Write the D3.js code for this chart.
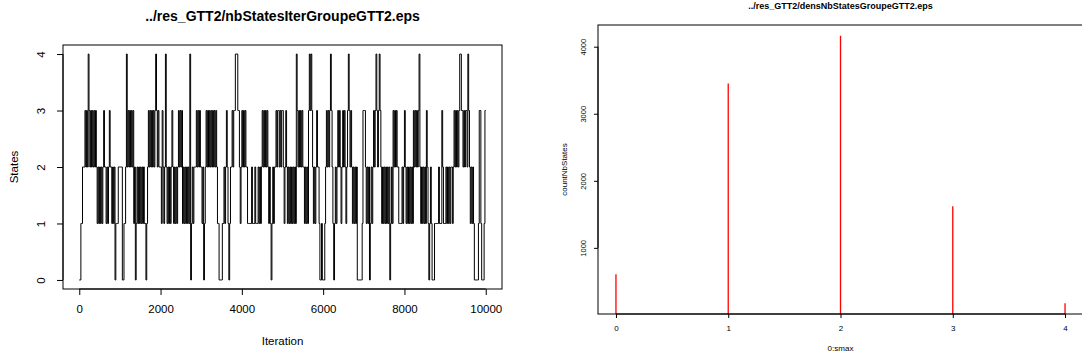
<!DOCTYPE html>
<html><head><meta charset="utf-8">
<script src="https://cdn.jsdelivr.net/npm/d3@7"></script>
<style>
html,body{margin:0;padding:0;background:#fff;}
svg{display:block;font-family:"Liberation Sans",Arial,Helvetica,sans-serif;}
</style></head>
<body>
<svg id="chart" width="1082" height="361"></svg>
<script>
// ---------- data ----------
// left panel: number of states per iteration, one string per 1000 iterations,
// each character = state over an equal slice of that block
const stateBlocks = [
  "0011 222 3232 4 323 2323232 1212121 232 2121 2322 1212 0 11122",
  "222 00 11 2 4 2 3232323 12 0 12121212121 1 0 12 323232323 4 32322",
  "21 32 12 4 2121212 32 121212 32323 121212121 4 0 121222 323232",
  "212 0 12 3232323232323 21 1 0000 11 212 32 1 0 122 3233 444 332 12",
  "323232 21 111121 112111 21212 3232323 212 1 0 1212 2323 32323",
  "321232 12121212121 4 32323232 212121 3 4 3 4 32121232 21 0010",
  "00 1 232323 4 32 1 0 1212323212323212 3 4 3232121212 000000 13",
  "332 1212 0 121 2323 4 323 4 3 21212121212 0 121 323232 21111212",
  "321 21212121 323232 3 4 21212121 32 1 0 121 000 111112111 3 211",
  "1212121 221 23232 323 443 323233 2 4 321212 1 0000 0133 100013"
];
const blockSize = 1000;
const iterTicks = [0, 2000, 4000, 6000, 8000, 10000];
const stateTicks = [0, 1, 2, 3, 4];

// right panel: count of iterations per number of states
const nbStates = [0, 1, 2, 3, 4];
const countNbStates = [607, 3451, 4164, 1619, 173];
const countTicks = [1000, 2000, 3000, 4000];

const leftTitle = "../res_GTT2/nbStatesIterGroupeGTT2.eps";
const rightTitle = "../res_GTT2/densNbStatesGroupeGTT2.eps";

// ---------- build trace ----------
const trace = [];
stateBlocks.forEach((b, bi) => {
  const s = b.replace(/\s+/g, "");
  const step = blockSize / s.length;
  for (let i = 0; i < s.length; i++) trace.push({it: bi * blockSize + i * step, v: +s[i]});
});
trace.push({it: stateBlocks.length * blockSize, v: trace[trace.length - 1].v});

const svg = d3.select("#chart");
const FONT = '"Liberation Sans",Arial,Helvetica,sans-serif';

function styleRotatedY(sel, off, size) {
  sel.selectAll(".tick text")
    .attr("font-size", size).attr("font-family", FONT).attr("fill", "#000")
    .attr("x", -off).attr("y", 0).attr("dy", 0)
    .attr("text-anchor", "middle")
    .attr("transform", `rotate(-90,${-off},0)`);
}

// ---------- left panel ----------
{
  const L = {x0: 63, x1: 502, y0: 45, y1: 289};
  const xMin = 0, xMax = 10000, xPad = 0.04 * (xMax - xMin);
  const x = d3.scaleLinear().domain([xMin - xPad, xMax + xPad]).range([L.x0, L.x1]);
  const yMin = 0, yMax = 4, yPad = 0.04 * (yMax - yMin);
  const y = d3.scaleLinear().domain([yMin - yPad, yMax + yPad]).range([L.y1, L.y0]);
  const g = svg.append("g");

  g.append("path").datum(trace)
    .attr("fill", "none").attr("stroke", "#000").attr("stroke-width", 1)
    .attr("d", d3.line().x(d => x(d.it)).y(d => y(d.v)).curve(d3.curveStepAfter));

  g.append("rect").attr("x", L.x0).attr("y", L.y0).attr("width", L.x1 - L.x0).attr("height", L.y1 - L.y0)
    .attr("fill", "none").attr("stroke", "#000").attr("stroke-width", 1);

  const ax = g.append("g").attr("transform", `translate(0,${L.y1})`)
    .call(d3.axisBottom(x).tickValues(iterTicks).tickSize(6).tickPadding(10).tickFormat(d3.format("d")));
  ax.select(".domain").remove();
  ax.append("line").attr("x1", x(iterTicks[0])).attr("x2", x(iterTicks[iterTicks.length - 1]))
    .attr("stroke", "#000");
  ax.selectAll(".tick text").attr("font-size", 11.5).attr("font-family", FONT).attr("fill", "#000");

  const ay = g.append("g").attr("transform", `translate(${L.x0},0)`)
    .call(d3.axisLeft(y).tickValues(stateTicks).tickSize(6).tickFormat(d3.format("d")));
  ay.select(".domain").remove();
  ay.append("line").attr("y1", y(stateTicks[0])).attr("y2", y(stateTicks[stateTicks.length - 1]))
    .attr("stroke", "#000");
  styleRotatedY(ay, 18, 11.5);

  g.append("text").attr("x", (L.x0 + L.x1) / 2).attr("y", 21).attr("text-anchor", "middle")
    .attr("font-weight", "bold").attr("font-size", 14).text(leftTitle);
  g.append("text").attr("x", (L.x0 + L.x1) / 2).attr("y", 345).attr("text-anchor", "middle")
    .attr("font-size", 11.5).text("Iteration");
  g.append("text").attr("transform", `translate(18,${(L.y0 + L.y1) / 2}) rotate(-90)`)
    .attr("text-anchor", "middle").attr("font-size", 11.5).text("States");
}

// ---------- right panel ----------
{
  const R = {x0: 598, x1: 1083, y0: 25, y1: 314};
  const xPad = 0.04 * (d3.max(nbStates) - d3.min(nbStates));
  const x = d3.scaleLinear().domain([d3.min(nbStates) - xPad, d3.max(nbStates) + xPad]).range([R.x0, R.x1]);
  const cMin = d3.min(countNbStates), cMax = d3.max(countNbStates), cPad = 0.04 * (cMax - cMin);
  const y = d3.scaleLinear().domain([cMin - cPad, cMax + cPad]).range([R.y1, R.y0]);
  const g = svg.append("g");

  g.append("clipPath").attr("id", "clipR").append("rect")
    .attr("x", R.x0).attr("y", R.y0).attr("width", R.x1 - R.x0).attr("height", R.y1 - R.y0);

  g.append("g").attr("clip-path", "url(#clipR)").selectAll("line").data(nbStates).join("line")
    .attr("x1", d => x(d)).attr("x2", d => x(d))
    .attr("y1", y(0)).attr("y2", (d, i) => y(countNbStates[i]))
    .attr("stroke", "#ff0000").attr("stroke-width", 1.3);

  g.append("rect").attr("x", R.x0).attr("y", R.y0).attr("width", R.x1 - R.x0).attr("height", R.y1 - R.y0)
    .attr("fill", "none").attr("stroke", "#000").attr("stroke-width", 1);

  const ax = g.append("g").attr("transform", `translate(0,${R.y1})`)
    .call(d3.axisBottom(x).tickValues(nbStates).tickSize(4).tickPadding(7).tickFormat(d3.format("d")));
  ax.select(".domain").remove();
  ax.append("line").attr("x1", x(nbStates[0])).attr("x2", x(nbStates[nbStates.length - 1])).attr("stroke", "#000");
  ax.selectAll(".tick text").attr("font-size", 8).attr("font-family", FONT).attr("fill", "#000");

  const ay = g.append("g").attr("transform", `translate(${R.x0},0)`)
    .call(d3.axisLeft(y).tickValues(countTicks).tickSize(4).tickFormat(d3.format("d")));
  ay.select(".domain").remove();
  ay.append("line").attr("y1", y(countTicks[0])).attr("y2", y(countTicks[countTicks.length - 1])).attr("stroke", "#000");
  styleRotatedY(ay, 12, 7.5);

  g.append("text").attr("x", (R.x0 + R.x1) / 2).attr("y", 9).attr("text-anchor", "middle")
    .attr("font-weight", "bold").attr("font-size", 9).text(rightTitle);
  g.append("text").attr("x", (R.x0 + R.x1) / 2).attr("y", 351).attr("text-anchor", "middle")
    .attr("font-size", 8).text("0:smax");
  g.append("text").attr("transform", `translate(567,${(R.y0 + R.y1) / 2}) rotate(-90)`)
    .attr("text-anchor", "middle").attr("font-size", 8).text("countNbStates");
}
</script>
</body></html>
